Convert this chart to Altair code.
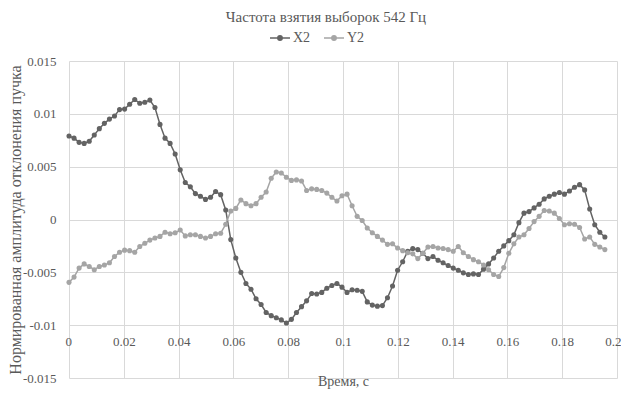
import altair as alt
import pandas as pd

# Sampling frequency, Hz
fs = 542

# Normalised beam deflection amplitude, series X2
x2 = [0.00790, 0.00770, 0.00730, 0.00720, 0.00740, 0.00800, 0.00860, 0.00910, 0.00950, 0.00980,
      0.01040, 0.01045, 0.01090, 0.01135, 0.01100, 0.01110, 0.01130, 0.01060, 0.00900, 0.00770,
      0.00720, 0.00620, 0.00470, 0.00350, 0.00310, 0.00245, 0.00220, 0.00190, 0.00210, 0.00265,
      0.00235, 0.00090, -0.00190, -0.00365, -0.00500, -0.00605, -0.00660, -0.00750, -0.00805, -0.00880,
      -0.00910, -0.00930, -0.00950, -0.00980, -0.00945, -0.00880, -0.00825, -0.00770, -0.00700, -0.00705,
      -0.00690, -0.00650, -0.00625, -0.00605, -0.00640, -0.00690, -0.00665, -0.00670, -0.00680, -0.00780,
      -0.00810, -0.00820, -0.00815, -0.00740, -0.00630, -0.00480, -0.00400, -0.00300, -0.00275, -0.00285,
      -0.00320, -0.00370, -0.00350, -0.00385, -0.00410, -0.00435, -0.00460, -0.00480, -0.00505, -0.00520,
      -0.00515, -0.00520, -0.00470, -0.00420, -0.00365, -0.00300, -0.00250, -0.00200, -0.00145, -0.00030,
      0.00060, 0.00075, 0.00110, 0.00145, 0.00195, 0.00220, 0.00240, 0.00255, 0.00240, 0.00270,
      0.00305, 0.00330, 0.00280, 0.00100, -0.00050, -0.00120, -0.00165]

# Series Y2
y2 = [-0.00595, -0.00545, -0.00460, -0.00420, -0.00445, -0.00475, -0.00445, -0.00430, -0.00410, -0.00350,
      -0.00310, -0.00290, -0.00295, -0.00310, -0.00255, -0.00225, -0.00195, -0.00175, -0.00160, -0.00120,
      -0.00135, -0.00125, -0.00100, -0.00155, -0.00145, -0.00145, -0.00160, -0.00175, -0.00160, -0.00135,
      -0.00130, -0.00045, 0.00080, 0.00105, 0.00185, 0.00150, 0.00130, 0.00150, 0.00210, 0.00260,
      0.00390, 0.00450, 0.00440, 0.00400, 0.00370, 0.00375, 0.00365, 0.00275, 0.00290, 0.00285,
      0.00275, 0.00250, 0.00210, 0.00175, 0.00225, 0.00240, 0.00130, 0.00030, -0.00010, -0.00080,
      -0.00125, -0.00160, -0.00195, -0.00235, -0.00230, -0.00270, -0.00295, -0.00315, -0.00325, -0.00370,
      -0.00320, -0.00260, -0.00255, -0.00270, -0.00275, -0.00285, -0.00300, -0.00255, -0.00315, -0.00350,
      -0.00380, -0.00400, -0.00430, -0.00475, -0.00520, -0.00540, -0.00455, -0.00320, -0.00230, -0.00165,
      -0.00145, -0.00085, -0.00020, 0.00030, 0.00085, 0.00080, 0.00060, 0.00010, -0.00050, -0.00040,
      -0.00045, -0.00075, -0.00185, -0.00165, -0.00235, -0.00260, -0.00285]

series = ["X2", "Y2"]
colors = ["#636363", "#a5a5a5"]
x_ticks = [0, 0.02, 0.04, 0.06, 0.08, 0.1, 0.12, 0.14, 0.16, 0.18, 0.2]
y_ticks = [-0.015, -0.01, -0.005, 0, 0.005, 0.01, 0.015]

n = len(x2)
time = [i / fs for i in range(n)]
df = pd.DataFrame({
    "t": time + time,
    "v": x2 + y2,
    "s": [series[0]] * n + [series[1]] * len(y2),
})

FONT = "Liberation Serif"
GREY = "#595959"
legend_path = ("M-1,0H1M-0.22,0A0.22,0.22,0,1,1,0.22,0A0.22,0.22,0,1,1,-0.22,0"
               "M-0.1,0A0.1,0.1,0,1,1,0.1,0A0.1,0.1,0,1,1,-0.1,0")

chart = alt.Chart(df).mark_line(
    strokeWidth=1.5,
    point=alt.OverlayMarkDef(filled=True, size=26),
).encode(
    x=alt.X("t:Q",
            scale=alt.Scale(domain=[0, 0.2], nice=False, zero=False),
            axis=alt.Axis(values=x_ticks, labelExpr="'' + datum.value", offset=-53,
                          domain=False, ticks=False, labelPadding=10,
                          labelFlush=True, labelFlushOffset=4, labelOverlap=False,
                          labelFont=FONT, labelFontSize=13, labelColor=GREY,
                          grid=True, gridColor="#d9d9d9", gridWidth=1,
                          title="Время, с", titleY=56, titleBaseline="middle",
                          titleFont=FONT, titleFontSize=14, titleColor=GREY,
                          titleFontWeight="normal")),
    y=alt.Y("v:Q",
            scale=alt.Scale(domain=[-0.015, 0.015], nice=False),
            axis=alt.Axis(values=y_ticks, labelExpr="'' + datum.value",
                          domain=False, ticks=False, labelPadding=13,
                          labelFlush=False, labelOverlap=False,
                          labelFont=FONT, labelFontSize=13, labelColor=GREY,
                          grid=True, gridColor="#d9d9d9", gridWidth=1,
                          title="Нормированная амплитуда отклонения пучка",
                          titleX=-54, titleBaseline="middle",
                          titleFont=FONT, titleFontSize=16, titleColor=GREY,
                          titleFontWeight="normal")),
    color=alt.Color("s:N",
                    scale=alt.Scale(domain=series, range=colors),
                    legend=alt.Legend(orient="none", legendX=200, legendY=-34,
                                      direction="horizontal", title=None,
                                      symbolType=legend_path, symbolSize=400,
                                      symbolStrokeWidth=1.5, labelOffset=2,
                                      columnPadding=10,
                                      labelFont=FONT, labelFontSize=14,
                                      labelColor=GREY)),
).properties(
    width=548,
    height=317,
    padding={"left": 61, "top": 53, "right": 4, "bottom": 11},
    autosize=alt.AutoSizeParams(type="none"),
    title=alt.TitleParams("Частота взятия выборок 542 Гц", anchor="middle",
                          dx=-17, dy=2, fontSize=15, font=FONT, fontWeight="normal",
                          color=GREY),
).configure_view(
    stroke=None
)

chart.save("out.html", embed_options={"renderer": "svg", "actions": False})
